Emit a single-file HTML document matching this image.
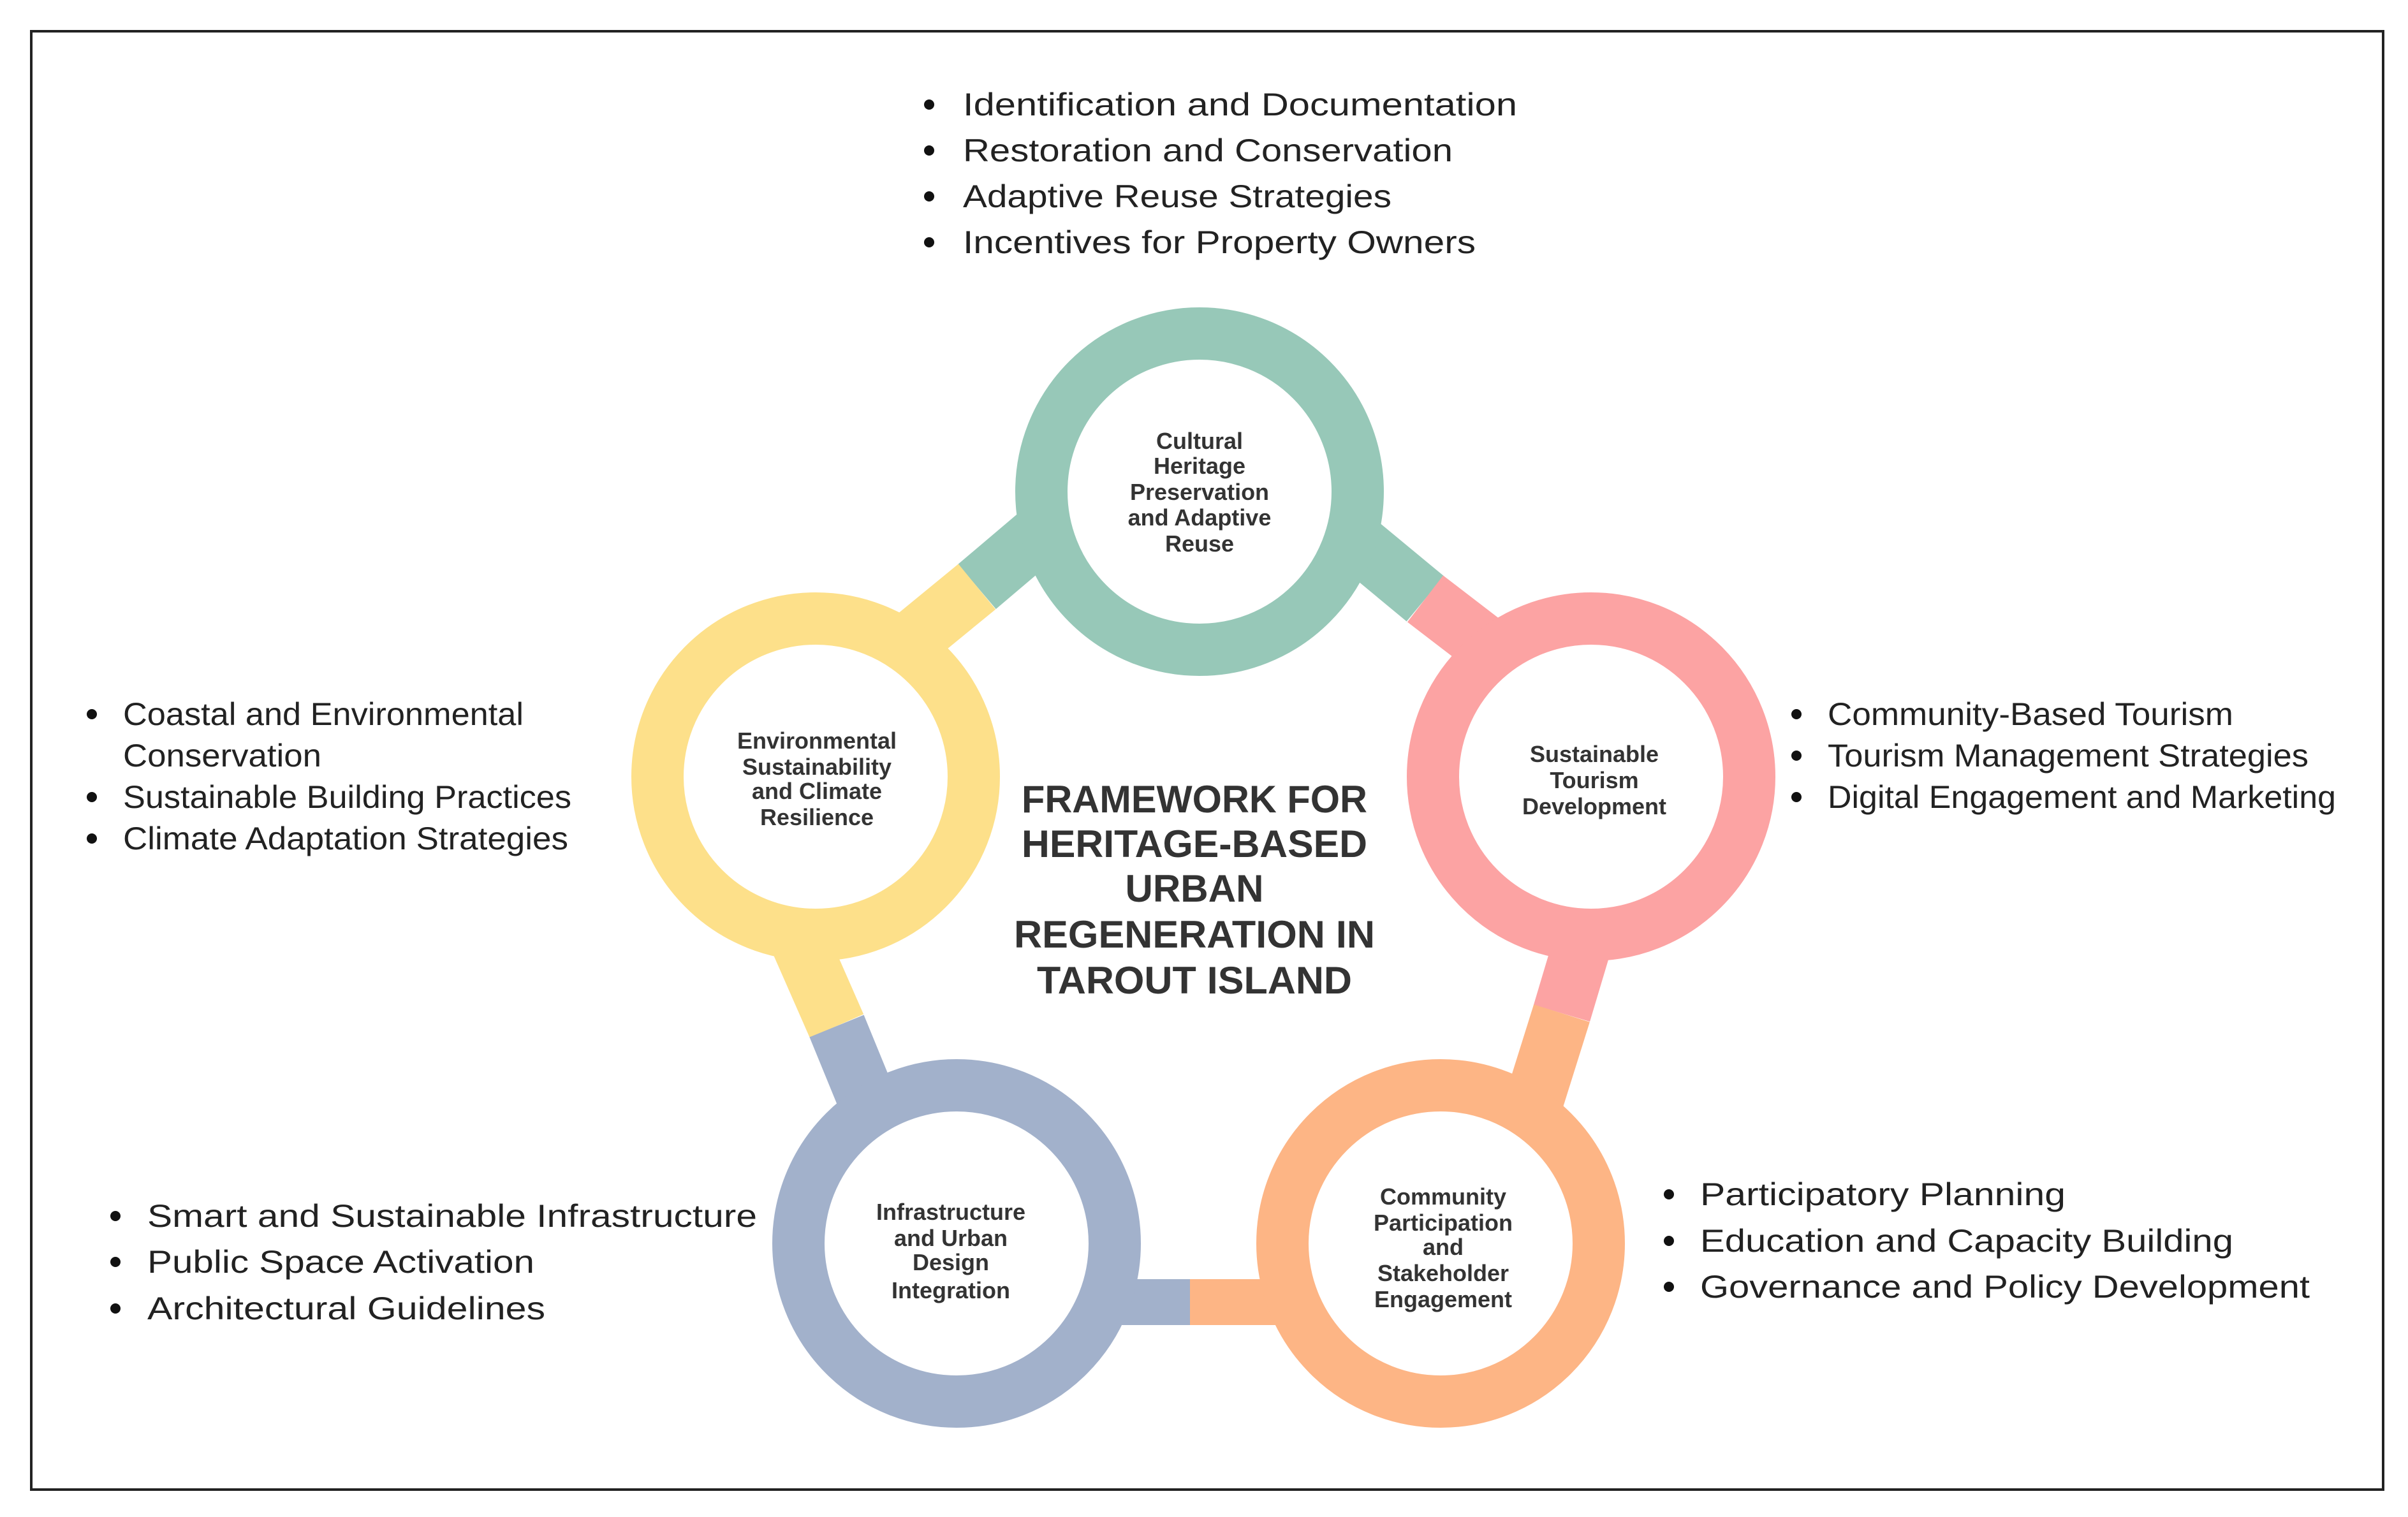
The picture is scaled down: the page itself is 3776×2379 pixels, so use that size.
<!DOCTYPE html>
<html><head><meta charset="utf-8"><style>html,body{margin:0;padding:0;background:#fff}svg{display:block}</style></head>
<body>
<svg width="3776" height="2379" viewBox="0 0 3776 2379" xmlns="http://www.w3.org/2000/svg" font-family="Liberation Sans, sans-serif">
<rect x="0" y="0" width="3776" height="2379" fill="#fff"/>
<rect x="49" y="49" width="3688" height="2287" fill="none" stroke="#222" stroke-width="4"/>
<!-- connectors -->
<g stroke-width="92" stroke-linecap="butt">
<line x1="1637" y1="831" x2="1532" y2="920" stroke="#97c8b8"/>
<line x1="1532" y1="920" x2="1421" y2="1011" stroke="#fde08a"/>
<line x1="2119" y1="843" x2="2235" y2="939" stroke="#97c8b8"/>
<line x1="2235" y1="939" x2="2360" y2="1035" stroke="#fca3a3"/>
<line x1="2492" y1="1445" x2="2449" y2="1589" stroke="#fca3a3"/>
<line x1="2449" y1="1589" x2="2396" y2="1758" stroke="#fdb585"/>
<line x1="1240" y1="1445" x2="1312" y2="1609" stroke="#fde08a"/>
<line x1="1312" y1="1609" x2="1373" y2="1758" stroke="#a2b1cb"/>
</g>
<rect x="1740" y="2006" width="126" height="72" fill="#a2b1cb"/>
<rect x="1866" y="2006" width="150" height="72" fill="#fdb585"/>
<!-- circles -->
<g fill="#fff" stroke-width="82">
<circle cx="1881" cy="771" r="248" stroke="#97c8b8"/>
<circle cx="2495" cy="1218" r="248" stroke="#fca3a3"/>
<circle cx="2259" cy="1950" r="248" stroke="#fdb585"/>
<circle cx="1500" cy="1950" r="248" stroke="#a2b1cb"/>
<circle cx="1279" cy="1218" r="248" stroke="#fde08a"/>
</g>
<!-- circle labels -->
<g font-weight="bold" font-size="36" fill="#333" text-anchor="middle">
<text x="1881" y="704">Cultural</text>
<text x="1881" y="743">Heritage</text>
<text x="1881" y="784">Preservation</text>
<text x="1881" y="824">and Adaptive</text>
<text x="1881" y="865">Reuse</text>
<text x="2500" y="1195">Sustainable</text>
<text x="2500" y="1236">Tourism</text>
<text x="2500" y="1277">Development</text>
<text x="1281" y="1174">Environmental</text>
<text x="1281" y="1215">Sustainability</text>
<text x="1281" y="1253">and Climate</text>
<text x="1281" y="1294">Resilience</text>
<text x="1491" y="1913">Infrastructure</text>
<text x="1491" y="1954">and Urban</text>
<text x="1491" y="1992">Design</text>
<text x="1491" y="2036">Integration</text>
<text x="2263" y="1889">Community</text>
<text x="2263" y="1930">Participation</text>
<text x="2263" y="1968">and</text>
<text x="2263" y="2009">Stakeholder</text>
<text x="2263" y="2050">Engagement</text>
</g>
<!-- title -->
<g font-weight="bold" font-size="60" fill="#333" text-anchor="middle" lengthAdjust="spacingAndGlyphs">
<text x="1873" y="1274" textLength="542" lengthAdjust="spacingAndGlyphs">FRAMEWORK FOR</text>
<text x="1873" y="1344" textLength="542" lengthAdjust="spacingAndGlyphs">HERITAGE-BASED</text>
<text x="1873" y="1414" textLength="217" lengthAdjust="spacingAndGlyphs">URBAN</text>
<text x="1873" y="1486" textLength="566" lengthAdjust="spacingAndGlyphs">REGENERATION IN</text>
<text x="1873" y="1558" textLength="494" lengthAdjust="spacingAndGlyphs">TAROUT ISLAND</text>
</g>
<!-- bullets -->
<g font-size="50" fill="#222">
<g fill="#111">
<circle cx="1457" cy="164" r="8"/><circle cx="1457" cy="236" r="8"/><circle cx="1457" cy="308" r="8"/><circle cx="1457" cy="380" r="8"/>
<circle cx="144" cy="1120" r="8"/><circle cx="144" cy="1250" r="8"/><circle cx="144" cy="1315" r="8"/>
<circle cx="2817" cy="1120" r="8"/><circle cx="2817" cy="1185" r="8"/><circle cx="2817" cy="1250" r="8"/>
<circle cx="181" cy="1907" r="8"/><circle cx="181" cy="1979" r="8"/><circle cx="181" cy="2052" r="8"/>
<circle cx="2617" cy="1873" r="8"/><circle cx="2617" cy="1946" r="8"/><circle cx="2617" cy="2018" r="8"/>
</g>
<text x="1510" y="181" textLength="869" lengthAdjust="spacingAndGlyphs">Identification and Documentation</text>
<text x="1510" y="253" textLength="768" lengthAdjust="spacingAndGlyphs">Restoration and Conservation</text>
<text x="1510" y="325" textLength="672" lengthAdjust="spacingAndGlyphs">Adaptive Reuse Strategies</text>
<text x="1510" y="397" textLength="804" lengthAdjust="spacingAndGlyphs">Incentives for Property Owners</text>
<text x="193" y="1137" textLength="628" lengthAdjust="spacingAndGlyphs">Coastal and Environmental</text>
<text x="193" y="1202" textLength="311" lengthAdjust="spacingAndGlyphs">Conservation</text>
<text x="193" y="1267" textLength="703" lengthAdjust="spacingAndGlyphs">Sustainable Building Practices</text>
<text x="193" y="1332" textLength="698" lengthAdjust="spacingAndGlyphs">Climate Adaptation Strategies</text>
<text x="2866" y="1137" textLength="636" lengthAdjust="spacingAndGlyphs">Community-Based Tourism</text>
<text x="2866" y="1202" textLength="754" lengthAdjust="spacingAndGlyphs">Tourism Management Strategies</text>
<text x="2866" y="1267" textLength="797" lengthAdjust="spacingAndGlyphs">Digital Engagement and Marketing</text>
<text x="231" y="1924" textLength="956" lengthAdjust="spacingAndGlyphs">Smart and Sustainable Infrastructure</text>
<text x="231" y="1996" textLength="607" lengthAdjust="spacingAndGlyphs">Public Space Activation</text>
<text x="231" y="2069" textLength="624" lengthAdjust="spacingAndGlyphs">Architectural Guidelines</text>
<text x="2666" y="1890" textLength="573" lengthAdjust="spacingAndGlyphs">Participatory Planning</text>
<text x="2666" y="1963" textLength="836" lengthAdjust="spacingAndGlyphs">Education and Capacity Building</text>
<text x="2666" y="2035" textLength="956" lengthAdjust="spacingAndGlyphs">Governance and Policy Development</text>
</g>
</svg>
</body></html>
